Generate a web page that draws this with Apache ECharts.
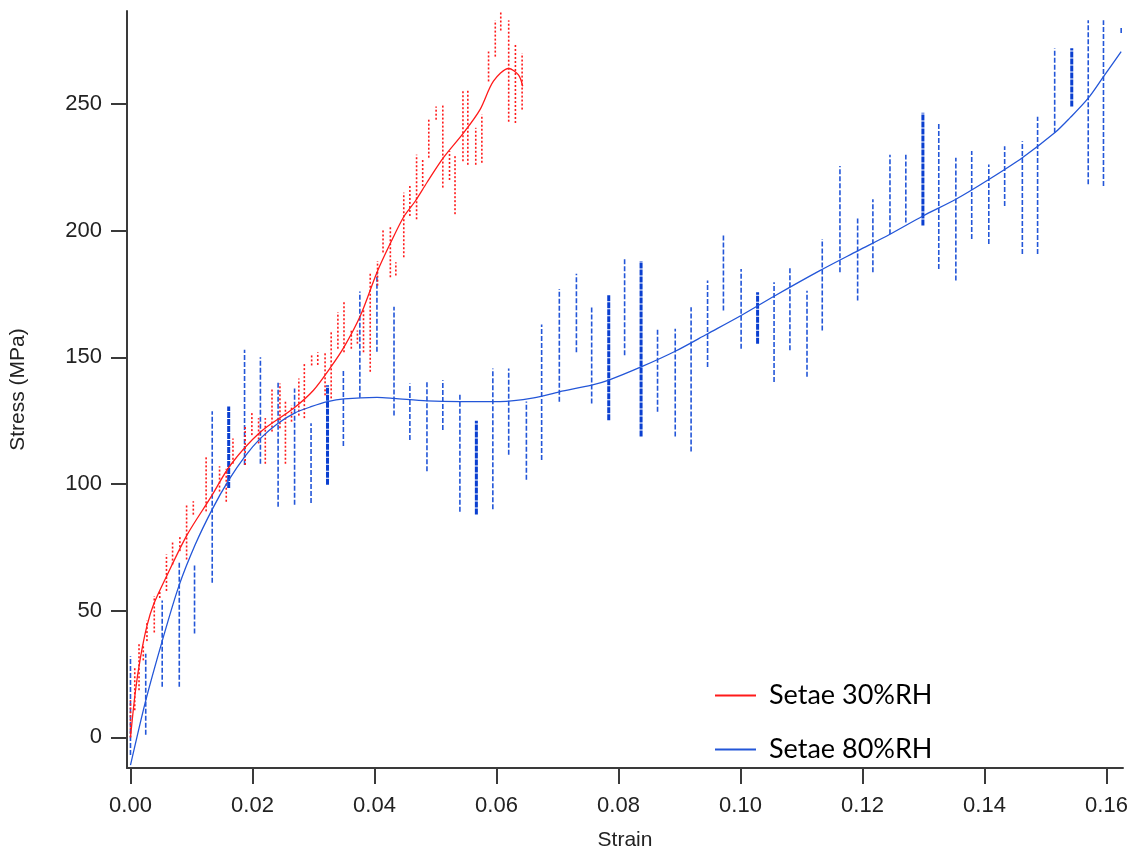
<!DOCTYPE html>
<html>
<head>
<meta charset="utf-8">
<title>Stress vs strain, setae</title>
<script src="https://cdn.jsdelivr.net/npm/echarts@6/dist/echarts.min.js"></script>
<style>
  html, body { margin: 0; padding: 0; background: #fff; }
  #chart { width: 1131px; height: 856px; }
</style>
</head>
<body>
<div id="chart"></div>
<script>
// tick labels
const xTicks = [0, 0.02, 0.04, 0.06, 0.08, 0.10, 0.12, 0.14, 0.16];
const yTicks = [0, 50, 100, 150, 200, 250];

// fitted curves [strain, stress]
const fit30 = [
  [0, 0], [0.0008, 18], [0.0016, 31], [0.0027, 44], [0.0038, 52.5], [0.006, 64],
  [0.0093, 80], [0.0131, 94.5], [0.0164, 107.5], [0.0213, 120.5], [0.0268, 130],
  [0.030, 137], [0.0328, 146], [0.035, 154], [0.0377, 166.5], [0.0404, 183.5],
  [0.0426, 195], [0.0448, 205.5], [0.0467, 211.7], [0.0486, 219], [0.0513, 228.8],
  [0.0546, 238.6], [0.0573, 247.8], [0.0595, 259], [0.062, 264], [0.0636, 261.5],
  [0.0643, 257]
];
const fit80 = [
  [0, -11], [0.0025, 14.5], [0.0052, 38], [0.0079, 59.5], [0.0106, 76], [0.0134, 90],
  [0.0161, 101.5], [0.0188, 111], [0.0213, 118], [0.0242, 124], [0.0269, 128],
  [0.0296, 130.5], [0.0323, 132.5], [0.035, 133.6], [0.0404, 134.2], [0.0432, 133.8],
  [0.0486, 132.8], [0.054, 132.5], [0.0606, 132.5], [0.0661, 134], [0.0703, 136.4],
  [0.0756, 139], [0.0784, 141], [0.0837, 146.2], [0.0893, 152.4], [0.0946, 159.3],
  [0.1001, 166.5], [0.1055, 174.1], [0.113, 184.2], [0.1192, 192], [0.1245, 198.6],
  [0.1299, 205.8], [0.1353, 212.4], [0.1407, 220.2], [0.1462, 228.8], [0.1515, 238.6],
  [0.154, 244.5], [0.157, 252.3], [0.1595, 260.8], [0.1624, 270.7]
];

// raw measurement spread [strain, low stress, high stress]
const raw30 = [
  [0.0, 0, 14.7], [0.0007, 10.7, 27.6], [0.0014, 18.6, 36.8], [0.0021, 30.4, 36.8],
  [0.0027, 38, 46], [0.0039, 41.4, 55.8], [0.0048, 55, 57.8], [0.0059, 57.8, 72.2],
  [0.0069, 68.2, 77.4], [0.0081, 73.5, 79.4], [0.0092, 70.2, 91.8], [0.0103, 87.9, 93.2],
  [0.0124, 89.2, 110.8], [0.0146, 97, 107], [0.0157, 93, 106], [0.0168, 108, 118],
  [0.0188, 107.5, 123], [0.0199, 119.3, 128.5], [0.021, 116, 126], [0.0221, 108, 126],
  [0.0232, 120.7, 137.7], [0.0245, 122, 139.7], [0.0254, 108, 133], [0.0264, 124.6, 131],
  [0.0276, 127, 141.6], [0.0285, 126, 148], [0.0297, 146.8, 150.8], [0.0307, 147, 152],
  [0.0319, 135, 152], [0.0329, 133.8, 160], [0.034, 153.4, 167.8], [0.035, 152, 171.8],
  [0.0362, 153.4, 161.3], [0.0372, 155.4, 160.6], [0.0382, 152, 169], [0.0393, 144.3, 183],
  [0.0405, 178.3, 188], [0.0414, 191.4, 200.6], [0.0426, 181.6, 202], [0.0435, 182.3, 187.5],
  [0.0448, 189.5, 215], [0.0458, 205.8, 217.6], [0.0469, 204.5, 230], [0.0479, 217.6, 228],
  [0.0489, 228.8, 244.5], [0.0501, 243.8, 249], [0.0512, 217, 249.7], [0.0523, 220, 231.4],
  [0.0532, 206.5, 229.4], [0.0545, 227.4, 255], [0.0553, 226, 255.6], [0.0566, 226, 240.6],
  [0.0576, 226.8, 245.8], [0.0587, 258.9, 270.7], [0.0598, 268.7, 283], [0.0607, 279, 287],
  [0.062, 243, 283], [0.0631, 242.5, 274], [0.0642, 247.8, 270]
];
const raw80 = [
  [0.0, -7, 32], [0.0025, 1, 33], [0.0052, 20, 54], [0.008, 20, 69], [0.0105, 41, 68],
  [0.0134, 61, 128.7], [0.0187, 107.5, 153], [0.0213, 108, 150], [0.0242, 91, 140],
  [0.0269, 91.8, 137.7], [0.0296, 92.5, 124], [0.0349, 115, 145], [0.0376, 134, 176],
  [0.0404, 152.2, 183.7], [0.0432, 127, 170], [0.0458, 117.4, 139.7], [0.0486, 105, 140.5],
  [0.0512, 121.3, 141], [0.054, 89, 135.7], [0.0594, 90, 145.6], [0.062, 111.5, 145.6],
  [0.0649, 101.7, 132.6], [0.0674, 109.5, 163], [0.0703, 132.5, 177], [0.0731, 152, 183],
  [0.0756, 131.8, 169.8], [0.081, 150.8, 189.5], [0.0864, 128.5, 161.5], [0.0893, 118.7, 161.3],
  [0.0919, 112.8, 169.8], [0.0946, 146.2, 180.3], [0.0972, 168.5, 198.6], [0.1001, 153.4, 184.9],
  [0.1055, 140.3, 179.6], [0.1081, 152.8, 185.5], [0.1109, 142.3, 176.3], [0.1134, 160.6, 196.7],
  [0.1163, 183.6, 225.5], [0.1192, 172.4, 205.2], [0.1217, 183.6, 212.4], [0.1245, 198.6, 230],
  [0.1271, 203.2, 230], [0.1325, 184.9, 242.5], [0.1353, 180.3, 228.8], [0.1379, 196.7, 231.4],
  [0.1407, 194.7, 226.1], [0.1433, 209.7, 233.3], [0.1462, 190.8, 235.3], [0.1487, 190.8, 245],
  [0.1515, 238.6, 272], [0.157, 218.3, 283], [0.1595, 217.6, 283], [0.1624, 278, 280]
];
// denser clusters of the 80%RH run
const raw80Dense = [
  [0.0161, 98.4, 130.6], [0.0323, 99.7, 139], [0.0567, 88, 125], [0.0784, 125.2, 174.6],
  [0.0837, 118.7, 188], [0.1028, 155.4, 175.7], [0.1299, 202, 246.5], [0.1543, 249, 272]
];

const RED = "#ff1a1a";
const BLUE = "#2356d8";
const AXIS = "#3a3a3a";
const FONT = "'Liberation Sans', Arial, sans-serif";

function spreadSeries(name, data, color, width, dash) {
  return {
    name: name,
    type: "custom",
    data: data,
    encode: { x: 0, y: [1, 2] },
    clip: true,
    silent: true,
    z: 1,
    renderItem: (params, api) => {
      const a = api.coord([api.value(0), api.value(1)]);
      const b = api.coord([api.value(0), api.value(2)]);
      return {
        type: "line",
        shape: { x1: a[0], y1: a[1], x2: b[0], y2: b[1] },
        style: { stroke: color, lineWidth: width, lineDash: dash }
      };
    }
  };
}

function fitSeries(name, data, color) {
  return {
    name: name,
    type: "line",
    data: data,
    smooth: 0.3,
    showSymbol: false,
    lineStyle: { color: color, width: 1.3 },
    itemStyle: { color: color },
    z: 3
  };
}

const chart = echarts.init(document.getElementById("chart"), null, { renderer: "canvas" });

chart.setOption({
  animation: false,
  backgroundColor: "#fff",
  grid: { left: 126, right: 8, top: 11, bottom: 85 },
  legend: {
    data: ["Setae 30%RH", "Setae 80%RH"],
    orient: "vertical",
    left: 710,
    top: 677,
    itemWidth: 41,
    itemHeight: 2,
    itemGap: 27,
    icon: "rect",
    textStyle: { fontFamily: "Lato, 'Open Sans', sans-serif", fontSize: 27, color: "#000", padding: [0, 0, 0, 8] }
  },
  xAxis: {
    type: "value",
    min: -0.00057,
    max: 0.1627,
    name: "Strain",
    nameLocation: "middle",
    nameGap: 62,
    nameTextStyle: { fontFamily: FONT, fontSize: 21, color: "#222" },
    splitLine: { show: false },
    axisLine: { onZero: false, lineStyle: { color: AXIS, width: 2 } },
    axisTick: { customValues: xTicks, length: 16, lineStyle: { color: AXIS, width: 2 } },
    axisLabel: {
      customValues: xTicks,
      margin: 27,
      fontFamily: FONT,
      fontSize: 22,
      color: "#222",
      formatter: (v) => v.toFixed(2)
    }
  },
  yAxis: {
    type: "value",
    min: -12.1,
    max: 286.7,
    name: "Stress (MPa)",
    nameLocation: "middle",
    nameGap: 98,
    nameTextStyle: { fontFamily: FONT, fontSize: 21, color: "#222" },
    splitLine: { show: false },
    axisLine: { show: true, onZero: false, lineStyle: { color: AXIS, width: 2 } },
    axisTick: { show: true, customValues: yTicks, length: 16, lineStyle: { color: AXIS, width: 2 } },
    axisLabel: {
      customValues: yTicks,
      margin: 25,
      fontFamily: FONT,
      fontSize: 22,
      color: "#222"
    }
  },
  series: [
    spreadSeries("raw 80%RH", raw80, BLUE, 1.6, [5, 2]),
    spreadSeries("raw 80%RH dense", raw80Dense, "#0a3fd0", 3, [6, 1]),
    spreadSeries("raw 30%RH", raw30, RED, 1.6, [2, 2]),
    fitSeries("Setae 30%RH", fit30, RED),
    fitSeries("Setae 80%RH", fit80, BLUE)
  ]
});

window.addEventListener("resize", () => chart.resize());
</script>
</body>
</html>
